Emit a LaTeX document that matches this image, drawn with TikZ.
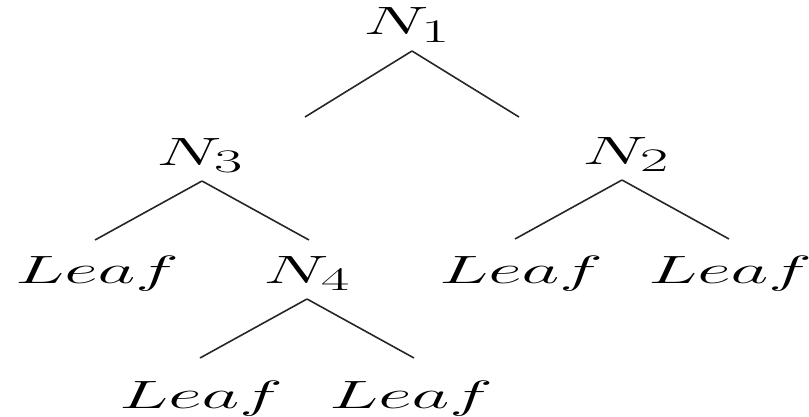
\documentclass[tikz,border=0pt]{standalone}
\usepackage{amsmath}
\usetikzlibrary{calc}
\tikzset{
    lbl/.style={anchor=base, inner sep=0pt, font=\Huge, xscale=1.86, transform shape},
    edge/.style={line width=1pt, color=black!85},
}
\begin{document}
\begin{tikzpicture}[x=0.63pt, y=-0.63pt]
    \useasboundingbox (0,0) rectangle (809,417);
    % Knoten
    \node[lbl] (n1) at (407,35) {$N_1$};
    \node[lbl] (n3) at (200,165) {$N_3$};
    \node[lbl] (n2) at (626,164) {$N_2$};
    \node[lbl] (leaf1) at (97,283) {$Leaf$};
    \node[lbl] (n4) at (307,283) {$N_4$};
    \node[lbl] (leaf2) at (521,283) {$Leaf$};
    \node[lbl] (leaf3) at (730,283) {$Leaf$};
    \node[lbl] (leaf4) at (201,408) {$Leaf$};
    \node[lbl] (leaf5) at (411,408) {$Leaf$};

    % Kanten (kurz, enden vor den Kindern)
    \foreach \p/\dx/\dy in {n1/5/66, n3/2/59, n2/-4/59, n4/0/59} {
        \coordinate (\p top) at ($(\p.base)+(\dx,16)$);
        \draw[edge] (\p top) -- ++(-107,\dy) coordinate (\p left);
        \draw[edge] (\p top) -- ++(107,\dy) coordinate (\p right);
    }
\end{tikzpicture}
\end{document}
